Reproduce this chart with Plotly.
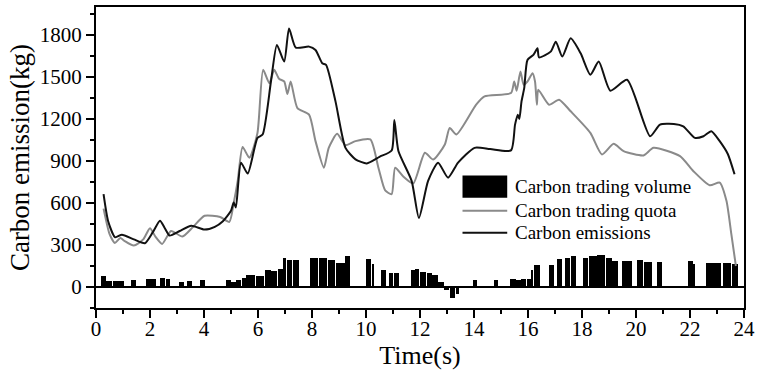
import plotly.graph_objects as go

# ---------------- data ----------------
emis_t = [0.28, 0.45, 0.71, 0.96, 1.40, 1.81, 2.10, 2.37, 2.55, 2.73, 3.10, 3.53, 4.02, 4.40, 4.70,
          5.00, 5.10, 5.18, 5.37, 5.62, 5.98, 6.17, 6.48, 6.70, 6.97, 7.15, 7.40, 7.89, 8.13, 8.38,
          8.52, 8.87, 9.24, 9.61, 10.03, 10.50, 10.95, 11.05, 11.20, 11.69, 11.96, 12.30, 12.67,
          13.04, 13.41, 14.02, 14.60, 15.37, 15.52, 15.62, 15.68, 15.76, 15.86, 15.98, 16.20,
          16.35, 16.41, 16.84, 17.03, 17.27, 17.58, 17.95, 18.31, 18.62, 19.05, 19.67, 20.52,
          20.89, 21.40, 21.75, 22.18, 22.50, 22.79, 23.10, 23.40, 23.65]
emis_v = [663, 470, 355, 374, 340, 313, 390, 474, 420, 367, 400, 438, 410, 430, 470,
          545, 604, 568, 888, 810, 1065, 1089, 1468, 1729, 1610, 1847, 1710, 1717, 1693, 1598,
          1587, 1326, 994, 912, 883, 930, 975, 1192, 971, 758, 493, 758, 888,
          781, 888, 994, 985, 976, 1160, 1231, 1200, 1326, 1420, 1622, 1658,
          1705, 1640, 1681, 1752, 1646, 1776, 1669, 1516, 1610, 1402, 1480, 1077,
          1160, 1165, 1148, 1065, 1077, 1113, 1042, 950, 805]

quota_t = [0.28, 0.50, 0.70, 0.90, 1.05, 1.40, 1.75, 2.00, 2.20, 2.45, 2.78, 3.20, 3.60, 4.02,
           4.60, 4.94, 5.10, 5.25, 5.43, 5.68, 5.98, 6.19, 6.42, 6.60, 6.78, 6.97, 7.09, 7.21,
           7.46, 7.89, 8.13, 8.44, 8.62, 8.93, 9.24, 9.61, 10.16, 10.46, 10.71, 10.95, 11.08,
           11.38, 11.75, 12.18, 12.49, 12.92, 13.10, 13.35, 14.08, 14.39, 15.37, 15.49, 15.58,
           15.72, 15.84, 15.98, 16.17, 16.26, 16.33, 16.38, 16.78, 17.15, 17.58, 18.31, 18.74,
           19.17, 19.54, 20.28, 20.65, 21.63, 22.12, 22.73, 23.10, 23.35, 23.53, 23.70]
quota_v = [560, 380, 315, 350, 330, 296, 340, 420, 360, 308, 400, 360, 430, 509,
           500, 465, 600, 760, 1000, 923, 1100, 1551, 1456, 1551, 1487, 1468, 1378, 1468,
           1278, 1231, 1042, 852, 994, 1094, 1013, 1042, 1054, 852, 690, 663, 852,
           790, 740, 959, 910, 1018, 1136, 1089, 1302, 1361, 1385, 1468, 1402,
           1539, 1445, 1468, 1527, 1468, 1302, 1409, 1302, 1338, 1255, 1101, 947,
           1023, 971, 940, 994, 935, 829, 727, 746, 616, 379, 150]

trade_start = [0.16, 0.37, 0.61, 1.30, 1.84, 2.37, 2.58, 3.07, 3.35, 3.84, 4.80, 5.00, 5.19,
               5.40, 5.56, 5.74, 5.90, 6.23, 6.48, 6.72, 6.93, 7.05, 7.27, 7.90, 8.24, 8.58,
               8.88, 9.22, 9.98, 10.20, 10.53, 10.83, 11.03, 11.66, 11.81, 11.99, 12.24, 12.45,
               12.67, 12.89, 13.10, 13.31, 13.95, 14.73, 15.31, 15.56, 15.74, 15.95, 16.12,
               16.20, 16.76, 17.07, 17.35, 17.58, 18.01, 18.25, 18.56, 18.87, 19.11, 19.48,
               20.04, 20.28, 20.77, 21.93, 22.12, 22.58, 22.89, 23.22, 23.53]
trade_end = [0.37, 0.61, 1.05, 1.48, 2.24, 2.58, 2.77, 3.26, 3.56, 4.06, 5.00, 5.19, 5.40,
             5.56, 5.74, 5.90, 6.23, 6.48, 6.72, 6.93, 7.05, 7.27, 7.54, 8.22, 8.58, 8.85,
             9.22, 9.42, 10.20, 10.32, 10.74, 11.03, 11.22, 11.81, 11.99, 12.24, 12.45, 12.67,
             12.89, 13.10, 13.31, 13.47, 14.14, 14.91, 15.56, 15.74, 15.95, 16.12, 16.20,
             16.47, 16.97, 17.27, 17.58, 17.79, 18.25, 18.56, 18.87, 19.11, 19.36, 19.85,
             20.28, 20.59, 20.96, 22.12, 22.20, 22.89, 23.16, 23.53, 23.78]
trade_volume = [76, 43, 40, 47, 59, 66, 54, 33, 40, 47, 52, 38, 50,
                62, 83, 88, 78, 123, 111, 128, 206, 194, 194, 206, 206, 194,
                172, 220, 201, 161, 125, 99, 99, 118, 130, 107, 102, 83,
                36, -24, -80, -47, 52, 52, 54, 47, 59, 55, 120,
                154, 154, 201, 208, 220, 208, 218, 227, 208, 189, 189,
                194, 178, 178, 189, 166, 173, 173, 170, 161]

x_ticks = list(range(0, 25, 2))
y_ticks = [0, 300, 600, 900, 1200, 1500, 1800]

legend_labels = ["Carbon trading volume", "Carbon trading quota", "Carbon emissions"]

FONT = "Liberation Serif"
GRAY = "#8a8a8a"
BLACK = "#111111"

bar_x = [(s + e) / 2 for s, e in zip(trade_start, trade_end)]
bar_w = [(e - s) - 0.025 for s, e in zip(trade_start, trade_end)]

fig = go.Figure()
fig.add_trace(go.Bar(x=bar_x, y=trade_volume, width=bar_w, marker=dict(color="black", line=dict(width=0)),
                     name=legend_labels[0], showlegend=False))
fig.add_trace(go.Scatter(x=quota_t, y=quota_v, mode="lines", line=dict(color=GRAY, width=2, shape="spline", smoothing=0.6),
                         name=legend_labels[1], showlegend=False))
fig.add_trace(go.Scatter(x=emis_t, y=emis_v, mode="lines", line=dict(color=BLACK, width=2, shape="spline", smoothing=0.6),
                         name=legend_labels[2], showlegend=False))

fig.update_layout(
    width=760, height=374,
    margin=dict(l=96, r=12, t=5, b=66),
    paper_bgcolor="white", plot_bgcolor="white",
    font=dict(family=FONT, size=21, color="black"),
    bargap=0,
)
fig.update_xaxes(
    range=[0, 24], tickvals=x_ticks, ticks="outside", ticklen=8, tickwidth=1.5, tickcolor="black",
    minor=dict(dtick=1, tick0=0, ticks="outside", ticklen=4, tickwidth=1.5, tickcolor="black"),
    showgrid=False, zeroline=False, showline=True, linecolor="black", linewidth=2, mirror=True,
    tickfont=dict(family=FONT, size=21), ticklabelstandoff=-7,
    title=dict(text="Time(s)", font=dict(family=FONT, size=26), standoff=0),
)
fig.update_yaxes(
    range=[-150, 2000], tickvals=y_ticks, ticks="outside", ticklen=8, tickwidth=1.5, tickcolor="black",
    minor=dict(dtick=150, tick0=0, ticks="outside", ticklen=4, tickwidth=1.5, tickcolor="black"),
    showgrid=False, zeroline=True, zerolinecolor="black", zerolinewidth=2,
    showline=True, linecolor="black", linewidth=2, mirror=True,
    tickfont=dict(family=FONT, size=21),
    title=dict(text="Carbon emission(kg)", font=dict(family=FONT, size=27), standoff=2),
)

# manual legend (paper coordinates)
fig.add_shape(type="rect", xref="paper", yref="paper", x0=0.5656, x1=0.6346, y0=0.3665, y1=0.4400,
              fillcolor="black", line=dict(width=0))
fig.add_shape(type="line", xref="paper", yref="paper", x0=0.5656, x1=0.6346, y0=0.3234, y1=0.3234,
              line=dict(color=GRAY, width=2))
fig.add_shape(type="line", xref="paper", yref="paper", x0=0.5656, x1=0.6346, y0=0.2498, y1=0.2498,
              line=dict(color=BLACK, width=2))
for lbl, yy in zip(legend_labels, [0.4033, 0.3234, 0.2498]):
    fig.add_annotation(text=lbl, xref="paper", yref="paper", x=0.6430, y=yy, xanchor="left", yanchor="middle",
                       showarrow=False, font=dict(family=FONT, size=19, color="black"))

fig.write_html("out.html", config={"displayModeBar": False},
               post_script="document.body.style.margin='0px';document.body.style.overflow='hidden';")
